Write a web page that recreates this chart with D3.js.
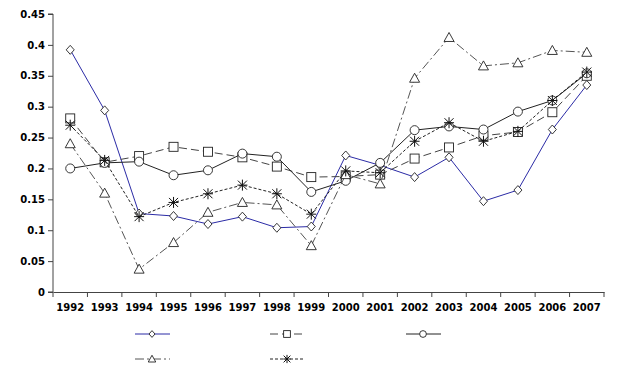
<!DOCTYPE html>
<html><head><meta charset="utf-8">
<script src="https://cdn.jsdelivr.net/npm/d3@7"></script>
<style>body{margin:0;background:#fff}svg{display:block}</style>
</head><body>
<svg id="c" width="618" height="378"></svg>
<script>
const years = ["1992","1993","1994","1995","1996","1997","1998","1999","2000","2001","2002","2003","2004","2005","2006","2007"];
const yTicks = [0,0.05,0.1,0.15,0.2,0.25,0.3,0.35,0.4,0.45];
const seriesDiamond  = [0.392,0.294,0.127,0.123,0.110,0.122,0.104,0.106,0.221,0.205,0.186,0.218,0.147,0.165,0.263,0.335];
const seriesSquare   = [0.281,0.210,0.220,0.235,0.227,0.218,0.203,0.186,0.187,0.190,0.216,0.234,0.253,0.259,0.291,0.350];
const seriesCircle   = [0.200,0.209,0.211,0.189,0.197,0.224,0.219,0.162,0.180,0.209,0.262,0.268,0.263,0.292,0.310,0.354];
const seriesTriangle = [0.240,0.160,0.037,0.080,0.129,0.145,0.141,0.075,0.190,0.175,0.346,0.412,0.366,0.371,0.391,0.388];
const seriesStar     = [0.270,0.213,0.122,0.145,0.159,0.173,0.159,0.126,0.196,0.193,0.244,0.274,0.244,0.260,0.310,0.356];

(function () {
const series = [
  {values: seriesDiamond,  marker:"diamond",  color:"#2b2ba6", dash:null,      lx:135, ly:334},
  {values: seriesSquare,   marker:"square",   color:"#444",    dash:"8,4",     lx:270, ly:334},
  {values: seriesCircle,   marker:"circle",   color:"#222",    dash:null,      lx:406, ly:334},
  {values: seriesTriangle, marker:"triangle", color:"#555",    dash:"9,3,2,3", lx:135, ly:359},
  {values: seriesStar,     marker:"star",     color:"#222",    dash:"3,2",     lx:270, ly:359}
];

const svg = d3.select("#c");
const mL = 53, mR = 604, mT = 14, mB = 292;
const x = d3.scaleBand().domain(years).range([mL, mR]);
const y = d3.scaleLinear().domain([0, 0.45]).range([mB, mT]);

const yAxis = d3.axisLeft(y).tickValues(yTicks).tickSize(5).tickFormat(d => d === 0 ? "0" : String(+d.toFixed(2)));
const gy = svg.append("g").attr("transform", `translate(${mL},0)`).call(yAxis);
gy.selectAll("text").attr("x", -8);
const xAxis = d3.axisBottom(x).tickSize(0).tickSizeOuter(0);
const gx = svg.append("g").attr("transform", `translate(0,${mB})`).call(xAxis);
gx.selectAll("text").attr("y", 12);
const bounds = years.map(d => x(d)).concat([mR]);
svg.append("g").selectAll("line").data(bounds).join("line")
  .attr("x1", d => d).attr("x2", d => d).attr("y1", mB).attr("y2", mB + 5)
  .attr("stroke", "#444");
[gx, gy].forEach(g => {
  g.selectAll("path.domain").attr("stroke", "#444");
  g.selectAll(".tick line").attr("stroke", "#444");
  g.selectAll("text").attr("font-family", "'DejaVu Sans', sans-serif")
    .attr("font-weight", "bold").attr("font-size", 10).attr("fill", "#000");
});
gy.select("path.domain").attr("d", `M-5,${mT}H0V${mB}H-5`);

const line = d3.line().x((d, i) => x(years[i]) + x.bandwidth() / 2).y(d => y(d));

function drawMarker(g, type, cx, cy, k) {
  const s = g.append("g").attr("transform", `translate(${cx},${cy}) scale(${k})`);
  let el;
  if (type === "diamond") el = s.append("path").attr("d", "M0,-4.5L4,0L0,4.5L-4,0Z");
  else if (type === "square") el = s.append("rect").attr("x", -4.5).attr("y", -4.5).attr("width", 9).attr("height", 9);
  else if (type === "circle") el = s.append("circle").attr("r", 4.5);
  else if (type === "triangle") el = s.append("path").attr("d", "M0,-5L5,4L-5,4Z");
  else {
    s.append("path").attr("d", "M-4.5,-4.5L4.5,4.5M-4.5,4.5L4.5,-4.5M0,-5.5V5.5M-5,0H5")
      .attr("stroke", "#111").attr("stroke-width", 1 / k).attr("fill", "none");
    return;
  }
  el.attr("fill", "#fff").attr("stroke", "#222").attr("stroke-width", 0.9 / k);
}

series.forEach(s => {
  const p = svg.append("path").datum(s.values).attr("d", line)
    .attr("fill", "none").attr("stroke", s.color).attr("stroke-width", 1);
  if (s.dash) p.attr("stroke-dasharray", s.dash);
  const mg = svg.append("g");
  s.values.forEach((v, i) => drawMarker(mg, s.marker, x(years[i]) + x.bandwidth() / 2, y(v), 1));
  const lg = svg.append("line").attr("x1", s.lx).attr("x2", s.lx + 35).attr("y1", s.ly).attr("y2", s.ly)
    .attr("stroke", s.color).attr("stroke-width", 1);
  if (s.dash) lg.attr("stroke-dasharray", s.dash);
  drawMarker(svg.append("g"), s.marker, s.lx + 17, s.ly, 0.75);
});
})();
</script>
</body></html>
